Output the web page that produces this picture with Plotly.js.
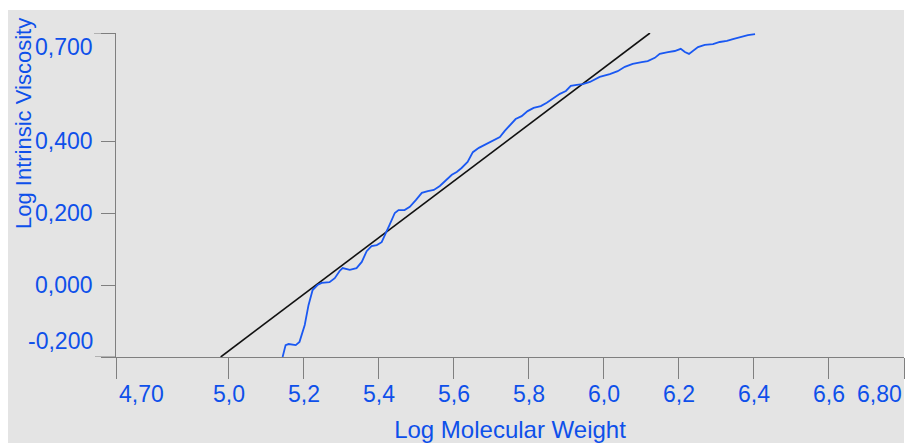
<!DOCTYPE html>
<html>
<head>
<meta charset="utf-8">
<script src="https://cdn.plot.ly/plotly-3.0.1.min.js"></script>
<style>html,body{margin:0;padding:0;background:#fff;}#chart{width:908px;height:443px;}</style>
</head>
<body>
<div id="chart"></div>
<script>
// ---- data ----
const curveLogMW = [5.144,5.152,5.160,5.179,5.189,5.203,5.213,5.224,5.237,5.248,5.269,5.283,5.296,5.304,5.323,5.341,5.355,5.368,5.381,5.395,5.408,5.419,5.429,5.443,5.453,5.469,5.483,5.499,5.515,5.531,5.547,5.563,5.581,5.595,5.608,5.621,5.637,5.651,5.667,5.683,5.701,5.723,5.736,5.749,5.765,5.781,5.797,5.813,5.832,5.848,5.864,5.883,5.899,5.912,5.928,5.944,5.963,5.989,6.016,6.037,6.056,6.077,6.101,6.117,6.136,6.149,6.171,6.189,6.205,6.216,6.227,6.237,6.251,6.269,6.291,6.309,6.328,6.344,6.363,6.384,6.403];
const curveLogIV = [-0.200,-0.167,-0.164,-0.167,-0.158,-0.111,-0.056,-0.014,0.000,0.006,0.008,0.019,0.039,0.047,0.042,0.047,0.064,0.094,0.108,0.111,0.119,0.142,0.167,0.200,0.208,0.208,0.217,0.236,0.256,0.261,0.264,0.275,0.292,0.306,0.314,0.325,0.342,0.369,0.381,0.389,0.400,0.411,0.428,0.444,0.461,0.469,0.483,0.492,0.497,0.506,0.517,0.531,0.539,0.553,0.556,0.558,0.564,0.578,0.586,0.594,0.606,0.614,0.619,0.622,0.631,0.642,0.647,0.650,0.656,0.647,0.642,0.650,0.661,0.667,0.669,0.675,0.678,0.683,0.689,0.694,0.697];
const fitLogMW = [4.979, 6.123];
const fitLogIV = [-0.200, 0.700];

const xTickVals = [4.7, 5.0, 5.2, 5.4, 5.6, 5.8, 6.0, 6.2, 6.4, 6.6, 6.8];
const xTickText = ["4,70","5,0","5,2","5,4","5,6","5,8","6,0","6,2","6,4","6,6","6,80"];
const yTickVals = [-0.2, 0.0, 0.2, 0.4, 0.7];
const yTickText = ["-0,200","0,000","0,200","0,400","0,700"];
const xTitle = "Log Molecular Weight";
const yTitle = "Log Intrinsic Viscosity";

// ---- styling ----
const BLUE = "#0e50ea";
const LINEBLUE = "#1a58f2";
const AXC = "#7f7f7f";
const FONT = "Liberation Sans, Arial, sans-serif";
const W = 908, H = 443, ML = 116, MR = 4, MT = 33, MB = 86;
const PW = W - ML - MR, PH = H - MT - MB;

const annotations = [];
xTickVals.forEach((v, i) => {
  const first = i === 0, last = i === xTickVals.length - 1;
  annotations.push({
    x: v, xref: "x", y: 0, yref: "paper", yanchor: "middle", yshift: -37,
    xanchor: first ? "left" : (last ? "right" : "center"),
    xshift: first ? 1 : 0,
    text: xTickText[i], showarrow: false,
    font: {family: FONT, size: 23, color: BLUE}
  });
});
yTickVals.forEach((v, i) => {
  const first = i === 0, last = i === yTickVals.length - 1;
  annotations.push({
    x: 0, xref: "paper", xanchor: "right", xshift: -21,
    y: v, yref: "y", yanchor: "middle",
    yshift: first ? 16 : (last ? -14 : 0),
    text: yTickText[i], showarrow: false,
    font: {family: FONT, size: 23, color: BLUE}
  });
});
annotations.push({
  x: (23 - ML) / PW, xref: "paper", xanchor: "center",
  y: (H - MB - 124) / PH, yref: "paper", yanchor: "middle",
  text: yTitle, textangle: -90, showarrow: false,
  font: {family: FONT, size: 22, color: BLUE}
});

const shapes = [
  // grey panel
  {type: "rect", xref: "paper", yref: "paper", layer: "below",
   x0: (8 - ML) / PW, x1: 1, y0: -MB / PH, y1: (H - MB - 10) / PH,
   fillcolor: "#e4e4e4", line: {width: 0}},
  // extended end ticks of the y axis
  {type: "line", xref: "paper", yref: "y", x0: -22 / PW, x1: 0, y0: 0.7, y1: 0.7,
   line: {color: AXC, width: 1}},
  {type: "line", xref: "paper", yref: "y", x0: -21 / PW, x1: 0, y0: -0.2, y1: -0.2,
   line: {color: AXC, width: 1}}
];

const traces = [
  {x: fitLogMW, y: fitLogIV, type: "scatter", mode: "lines",
   line: {color: "#111111", width: 1.6}, hoverinfo: "skip"},
  {x: curveLogMW, y: curveLogIV, type: "scatter", mode: "lines",
   line: {color: LINEBLUE, width: 1.8}, hoverinfo: "skip"}
];

const layout = {
  width: W, height: H,
  margin: {l: ML, r: MR, t: MT, b: MB, pad: 0},
  paper_bgcolor: "#ffffff", plot_bgcolor: "rgba(0,0,0,0)",
  showlegend: false,
  xaxis: {
    range: [4.7, 6.8], showgrid: false, zeroline: false,
    showline: true, linecolor: AXC, linewidth: 1,
    ticks: "outside", ticklen: 21, tickcolor: AXC, tickwidth: 1,
    tickmode: "array", tickvals: xTickVals, showticklabels: false,
    title: {text: xTitle, standoff: 43, font: {family: FONT, size: 24, color: BLUE}},
    automargin: false, fixedrange: true
  },
  yaxis: {
    range: [-0.2, 0.7], showgrid: false, zeroline: false,
    showline: true, linecolor: AXC, linewidth: 1,
    ticks: "outside", ticklen: 14, tickcolor: AXC, tickwidth: 1,
    tickmode: "array", tickvals: yTickVals, showticklabels: false,
    automargin: false, fixedrange: true
  },
  annotations: annotations,
  shapes: shapes
};

Plotly.newPlot("chart", traces, layout, {displayModeBar: false, staticPlot: true});
</script>
</body>
</html>
